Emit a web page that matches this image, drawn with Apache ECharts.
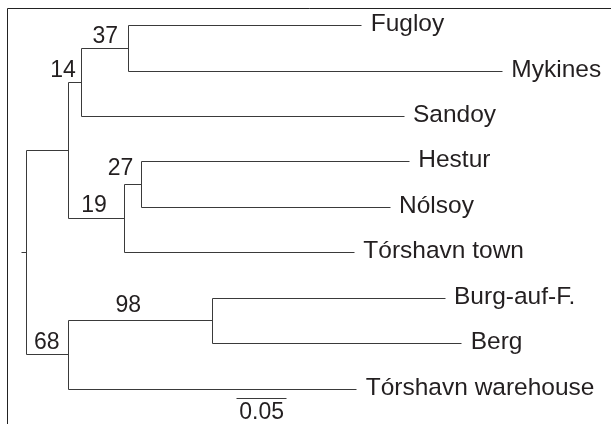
<!DOCTYPE html>
<html>
<head>
<meta charset="utf-8">
<script src="https://cdn.jsdelivr.net/npm/echarts@6/dist/echarts.min.js"></script>
<style>html,body{margin:0;padding:0;background:#fff}#c{width:611px;height:424px}</style>
</head>
<body>
<div id="c"></div>
<script>
// ---- data ----
const taxa = ['Fugloy','Mykines','Sandoy','Hestur','Nólsoy','Tórshavn town','Burg-auf-F.','Berg','Tórshavn warehouse'];
const tipParent = ['n37','n37','n14','n27','n27','n19','n98','n98','n68'];
const tipLength = [0.2334,0.3740,0.3223,0.2676,0.2483,0.2300,0.2327,0.2494,0.2884];
const nodeIds = ['root','n1','n14','n37','n19','n27','n68','n98'];
const nodeParent = [null,'root','n1','n14','n1','n19','root','n68'];
const nodeLength = [0,0.0416,0.0134,0.0466,0.0560,0.0174,0.0416,0.1440];
const nodeSupport = [null,null,14,37,19,27,68,98];
const scaleBarLength = 0.05;
const scaleBarLabel = '0.05';

// ---- layout / style ----
const FONT = "'Liberation Sans', Arial, Helvetica, sans-serif";
const LINE = '#3a3a3a';
const TEXT = '#231f20';
const leafFont = 24.5, numFont = 23;
const rootStub = 0.005;
const scaleBarStart = 0.21, scaleBarRow = 8.214;
// pixel offsets of support labels: [dx of text centre from node, dy of baseline from branch]
const supportOffset = {n14:[-18.7,-4], n37:[-23,-4], n19:[-30.3,-4.7], n27:[-21.2,-8.3], n68:[-21.6,-4.6], n98:[-84,-7.4]};

// ---- compute tree geometry ----
const nx = {}, ny = {};
nodeIds.forEach((id,i)=>{ nx[id] = nodeParent[i] ? nx[nodeParent[i]] + nodeLength[i] : 0; });
const tipX = taxa.map((t,i)=> nx[tipParent[i]] + tipLength[i]);
const tipY = taxa.map((t,i)=> i);
const childYs = {};
for (let k = nodeIds.length-1; k >= 0; k--) {
  const id = nodeIds[k];
  const ys = [];
  taxa.forEach((t,i)=>{ if (tipParent[i]===id) ys.push(tipY[i]); });
  nodeIds.forEach((c,j)=>{ if (nodeParent[j]===id) ys.push(ny[c]); });
  childYs[id] = [Math.min(...ys), Math.max(...ys)];
  ny[id] = (childYs[id][0] + childYs[id][1]) / 2;
}
const segs = [];
taxa.forEach((t,i)=> segs.push([nx[tipParent[i]], tipY[i], tipX[i], tipY[i]]));
nodeIds.forEach((id,j)=>{
  if (nodeParent[j]) segs.push([nx[nodeParent[j]], ny[id], nx[id], ny[id]]);
  segs.push([nx[id], childYs[id][0], nx[id], childYs[id][1]]);
});
segs.push([-rootStub, ny.root, 0, ny.root]);
segs.push([scaleBarStart, scaleBarRow, scaleBarStart + scaleBarLength, scaleBarRow]);

const crisp = v => Math.round(v - 0.5) + 0.5;

const leafData = taxa.map((t,i)=>[tipX[i], tipY[i], t]);
const supData = [];
nodeIds.forEach((id,j)=>{ if (nodeSupport[j] != null) supData.push([nx[id], ny[id], String(nodeSupport[j]), id]); });

const chart = echarts.init(document.getElementById('c'), null, {renderer:'canvas'});
chart.setOption({
  animation: false,
  backgroundColor: '#fff',
  grid: {left: 26.7, top: 25.7, width: 500, height: 363.3, containLabel: false},
  xAxis: {type:'value', min:0, max:0.5, show:false},
  yAxis: {type:'value', min:0, max:8, inverse:true, show:false},
  graphic: [{type:'rect', shape:{x:7.5, y:8.5, width:700, height:600}, style:{fill:'none', stroke:'#222', lineWidth:1}, silent:true}],
  series: [
    {
      type:'custom', clip:false, data: segs,
      renderItem: (params, api) => {
        const a = api.coord([api.value(0), api.value(1)]);
        const b = api.coord([api.value(2), api.value(3)]);
        return {type:'line', shape:{x1:crisp(a[0]), y1:crisp(a[1]), x2:crisp(b[0]), y2:crisp(b[1])}, style:{stroke:LINE, lineWidth:1}};
      }
    },
    {
      type:'custom', clip:false, data: leafData,
      renderItem: (params, api) => {
        const p = api.coord([api.value(0), api.value(1)]);
        return {type:'text', x: p[0] + 9, y: p[1] - 1.2, style:{text: leafData[params.dataIndex][2], font: leafFont + 'px ' + FONT, fill: TEXT, align:'left', verticalAlign:'middle'}};
      }
    },
    {
      type:'custom', clip:false, data: supData,
      renderItem: (params, api) => {
        const d = supData[params.dataIndex];
        const p = api.coord([d[0], d[1]]);
        const off = supportOffset[d[3]];
        return {type:'text', x: p[0] + off[0], y: p[1] + off[1] - 0.3465*numFont, style:{text: d[2], font: numFont + 'px ' + FONT, fill: TEXT, align:'center', verticalAlign:'middle'}};
      }
    },
    {
      type:'custom', clip:false, data: [[scaleBarStart + scaleBarLength/2, scaleBarRow, scaleBarLabel]],
      renderItem: (params, api) => {
        const p = api.coord([api.value(0), api.value(1)]);
        return {type:'text', x: p[0], y: p[1] + 2, style:{text: scaleBarLabel, font: numFont + 'px ' + FONT, fill: TEXT, align:'center', verticalAlign:'top'}};
      }
    }
  ]
});
</script>
</body>
</html>
